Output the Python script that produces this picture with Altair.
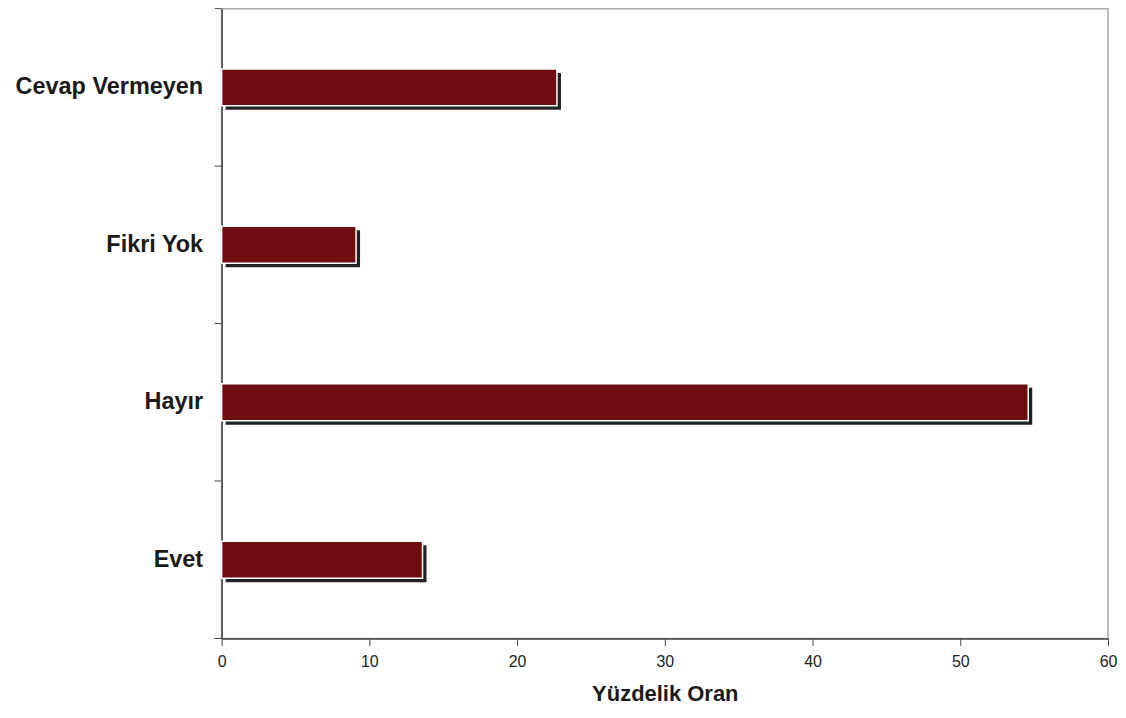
import altair as alt
import pandas as pd

categories = ["Cevap Vermeyen", "Fikri Yok", "Hayır", "Evet"]
values = [22.7, 9.1, 54.6, 13.6]

df = pd.DataFrame({"cat": categories, "val": values})

W, H = 888, 631
FONT = "Liberation Sans"

y_enc = alt.Y("cat:N", sort=categories, title=None,
              scale=alt.Scale(paddingInner=0, paddingOuter=0),
              axis=alt.Axis(ticks=False, labelPadding=19, labelFontSize=23.5,
                            labelFontWeight="bold", labelColor="#1a1a1a",
                            labelLimit=400, labelFont=FONT,
                            domainColor="#444", domainWidth=1.5))
x_enc = alt.X("val:Q", title="Yüzdelik Oran",
              scale=alt.Scale(domain=[0, 60], nice=False),
              axis=alt.Axis(values=[0, 10, 20, 30, 40, 50, 60], grid=False,
                            tickSize=7, tickColor="#444", domainColor="#444",
                            domainWidth=1.5, labelFontSize=16, labelColor="#222",
                            labelFont=FONT, labelPadding=8, labelFlush=False,
                            titleFontSize=22, titleFont=FONT,
                            titleFontWeight="bold", titleColor="#1a1a1a",
                            titlePadding=14))

base = alt.Chart(df)

shadow = base.mark_bar(color="#222222", size=37, xOffset=4, yOffset=4).encode(
    x=x_enc, y=y_enc)
bars = base.mark_bar(color="#700D10", size=37, stroke="white",
                     strokeWidth=1.5).encode(x="val:Q", y=alt.Y("cat:N", sort=categories))

ticks = base.mark_rule(color="#444", strokeWidth=1).encode(
    y=alt.Y("cat:N", sort=categories, bandPosition=0),
    x=alt.value(-7), x2=alt.value(0))
bottom_tick = base.mark_rule(color="#444", strokeWidth=1).encode(
    y=alt.value(H), x=alt.value(-7), x2=alt.value(0))

chart = alt.layer(shadow, bars, ticks, bottom_tick).properties(
    width=W, height=H,
    autosize=alt.AutoSizeParams(type="none"),
    padding={"left": 214, "top": 0, "right": 10, "bottom": 70},
).configure_view(stroke="#aaaaaa", strokeWidth=1.5)

chart.save("out.html", embed_options={"renderer": "svg", "actions": False})
